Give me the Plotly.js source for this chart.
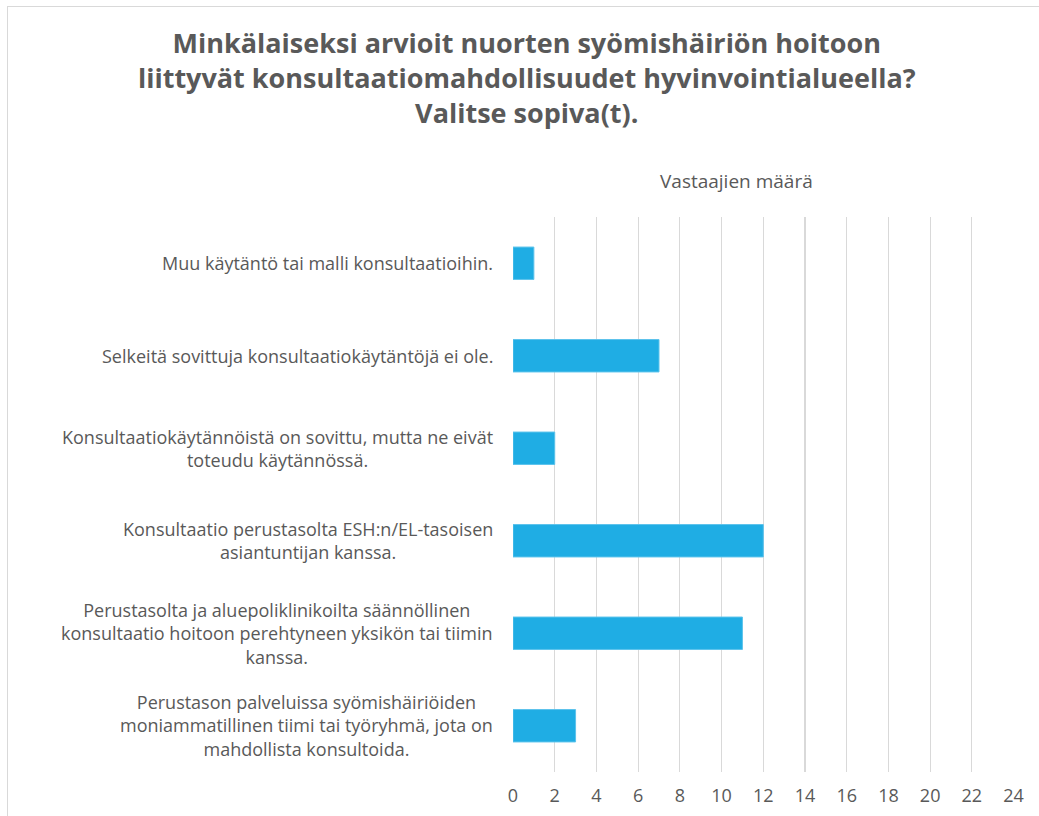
<!DOCTYPE html>
<html>
<head>
<meta charset="utf-8">
<script src="https://cdn.plot.ly/plotly-3.0.1.min.js"></script>
<style>
  html, body { margin: 0; padding: 0; background: #fff; }
  #frame { position: absolute; left: 7px; top: 6px; width: 1100px; height: 900px; border: 1.5px solid #D9D9D9; box-sizing: border-box; }
  #chart { position: absolute; left: 0; top: 0; width: 1039px; height: 816px; }
</style>
</head>
<body>
<div id="frame"></div>
<div id="chart"></div>
<script>
// Categories (top to bottom as displayed)
const categories = [
  "Muu käytäntö tai malli konsultaatioihin.",
  "Selkeitä sovittuja konsultaatiokäytäntöjä ei ole.",
  "Konsultaatiokäytännöistä on sovittu, mutta ne eivät<br>toteudu käytännössä.",
  "Konsultaatio perustasolta ESH:n/EL-tasoisen<br>asiantuntijan kanssa.",
  "Perustasolta ja aluepoliklinikoilta säännöllinen<br>konsultaatio hoitoon perehtyneen yksikön tai tiimin<br>kanssa.",
  "Perustason palveluissa syömishäiriöiden<br>moniammatillinen tiimi tai työryhmä, jota on<br>mahdollista konsultoida."
];
const counts = [1, 7, 2, 12, 11, 3];
const tickValues = [0, 2, 4, 6, 8, 10, 12, 14, 16, 18, 20, 22, 24];

const chartTitle = "Minkälaiseksi arvioit nuorten syömishäiriön hoitoon<br>liittyvät konsultaatiomahdollisuudet hyvinvointialueella?<br>Valitse sopiva(t).";
const axisTitle = "Vastaajien määrä";

const FONT = "'Open Sans', 'DejaVu Sans', sans-serif";
const TXT = "#595959";

const trace = {
  type: "bar",
  orientation: "h",
  y: categories,
  x: counts,
  marker: { color: "#1FADE4", line: { color: "#5CC3EC", width: 1 } },
  hoverinfo: "x+y"
};

const labelAnnotations = categories.map(c => ({
  xref: "paper", yref: "y",
  x: -0.036, y: c,
  xanchor: "right", yanchor: "middle",
  align: "center",
  text: c,
  showarrow: false,
  font: { family: FONT, size: 18, color: TXT }
}));

const layout = {
  width: 1039, height: 816,
  margin: { l: 513, r: 25, t: 217, b: 44, pad: 0 },
  paper_bgcolor: "rgba(0,0,0,0)",
  plot_bgcolor: "rgba(0,0,0,0)",
  font: { family: FONT, color: TXT },
  title: {
    text: chartTitle,
    font: { family: FONT, size: 27, color: TXT, weight: "bold" },
    x: 0.507, xanchor: "center",
    y: 0.935, yanchor: "top", yref: "container"
  },
  bargap: 0.65,
  showlegend: false,
  xaxis: {
    range: [0, 24.02],
    tickvals: tickValues,
    ticktext: tickValues.map(String),
    showgrid: true,
    gridcolor: "#D9D9D9",
    gridwidth: 1.2,
    zeroline: false,
    showline: false,
    ticks: "",
    ticklabelstandoff: 11,
    tickfont: { family: FONT, size: 18, color: TXT },
    fixedrange: true
  },
  yaxis: {
    type: "category",
    autorange: "reversed",
    showticklabels: false,
    showgrid: false,
    zeroline: false,
    showline: false,
    ticks: "",
    fixedrange: true
  },
  annotations: labelAnnotations.concat([{
    xref: "paper", yref: "paper",
    x: (736 - 513) / 501, y: (772 - 181) / 555,
    xanchor: "center", yanchor: "middle",
    text: axisTitle, showarrow: false,
    font: { family: FONT, size: 19, color: TXT }
  }])
};

Plotly.newPlot("chart", [trace], layout, { displayModeBar: false, staticPlot: true });
</script>
</body>
</html>
